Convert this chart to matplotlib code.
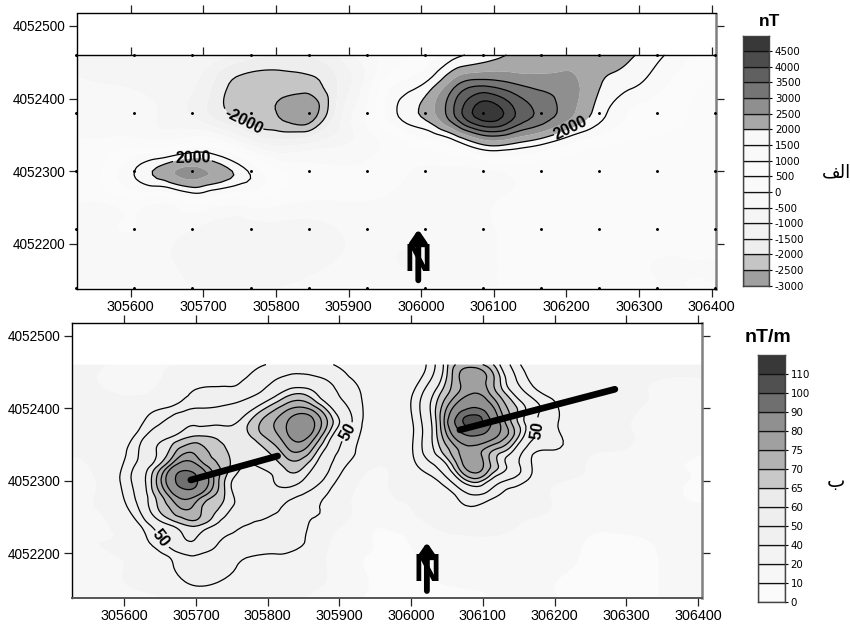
import numpy as np
import matplotlib
matplotlib.use("Agg")
import matplotlib.pyplot as plt
import matplotlib.tri as mtri
from matplotlib.colors import BoundaryNorm, ListedColormap

plt.rcParams['font.family'] = ['Liberation Sans', 'DejaVu Sans']

# ---------- data ----------
grid_x = [305525, 305565, 305605, 305645, 305685, 305725, 305765, 305805, 305845, 305885, 305925, 305965,
          306005, 306045, 306085, 306125, 306165, 306205, 306245, 306285, 306325, 306365, 306405]
grid_y = [4052460, 4052420, 4052380, 4052340, 4052300, 4052260, 4052220, 4052180, 4052140]

tmi_rows = [
    [-600, -800, -700, -600, -500, -800, -1300, -1500, -1450, -1000, -100, 300, 700, 1350, 1700, 2050, 2200, 2350, 2450, 2100, 1650, 1100, 700],
    [-400, -500, -600, -700, -900, -1800, -2250, -2250, -2200, -1500, -300, 1000, 1550, 2800, 3350, 3050, 2800, 2650, 2050, 1650, 1200, 700, 400],
    [-200, -200, -300, -600, -1100, -1850, -2350, -2580, -2900, -1300, 100, 1450, 2150, 3500, 4800, 4150, 3350, 2650, 1750, 1000, 700, 500, 300],
    [100, 100, 200, 100, 500, 200, -800, -1300, -1100, -700, -200, 300, 800, 1300, 2250, 2150, 1700, 1100, 700, 500, 400, 300, 200],
    [200, 600, 1500, 2250, 2650, 2250, 1400, 500, 200, 100, 100, 100, -100, -100, -100, 100, 200, 200, 200, 200, 200, 200, 200],
    [100, 100, 400, 200, 800, 400, 400, 200, 0, 0, 0, -100, -200, -200, -100, 100, 200, 200, 200, 200, 200, 200, 100],
    [-200, -100, 0, -300, -500, -700, -700, -700, -700, -500, -300, -300, -400, -300, -100, 100, 200, 200, 200, 100, 100, 100, 100],
    [-400, -300, -200, -400, -700, -800, -800, -800, -700, -500, -400, -500, -500, -300, -100, 100, 200, 200, 200, 100, 0, 0, 0],
    [-300, -300, -200, -300, -500, -600, -600, -500, -400, -300, -300, -400, -400, -300, -100, 100, 100, 100, 100, 100, 0, 0, 0],
]
grad_rows = [
    [25, 22, 16, 18, 20, 25, 32, 41, 48, 41, 30, 20, 30, 60, 72, 59, 33, 28, 27, 27, 26, 24, 24],
    [24, 23, 19, 23, 38, 43, 45, 56, 65, 54, 42, 26, 42, 67, 80, 68, 48, 33, 28, 26, 21, 18, 18],
    [24, 24, 27, 48, 58, 59, 62, 74, 84, 69, 45, 25, 42, 74, 105, 79, 56, 40, 27, 24, 17, 15, 14],
    [22, 25, 41, 60, 74, 69, 61, 66, 75, 56, 39, 24, 42, 66, 78, 66, 44, 38, 24, 20, 15, 13, 11],
    [18, 22, 47, 70, 95, 75, 55, 59, 61, 46, 22, 19, 33, 44, 67, 52, 38, 22, 18, 15, 13, 11, 9],
    [14, 21, 39, 64, 75, 66, 56, 53, 44, 37, 17, 15, 21, 34, 38, 28, 23, 19, 16, 14, 12, 11, 11],
    [12, 19, 25, 47, 60, 53, 47, 44, 43, 22, 12, 9, 11, 17, 19, 19, 17, 15, 10, 9, 10, 11, 12],
    [12, 14, 21, 30, 46, 46, 38, 33, 28, 19, 11, 8, 9, 12, 13, 13, 12, 11, 9, 8, 9, 11, 12],
    [12, 12, 15, 19, 30, 30, 24, 23, 21, 16, 11, 8, 8, 9, 9, 11, 11, 10, 8, 8, 9, 11, 12],
]

# extra readings between the grid nodes around the three gradient highs
extra_y_440_x = [305745, 305785, 305825, 305865, 306025, 306065, 306105, 306145]
extra_y_440_v = [36, 44, 52, 52, 48, 74, 75, 51]
extra_y_400_x = [305625, 305665, 305705, 305745, 305785, 305825, 305865, 305905, 306025, 306065, 306105, 306145, 306185]
extra_y_400_v = [32, 42, 50, 52, 61, 73, 72, 53, 59, 84, 86, 66, 48]
extra_y_360_x = [305625, 305665, 305705, 305745, 305785, 305825, 305865, 305905, 306025, 306065, 306105, 306145, 306185]
extra_y_360_v = [48, 60, 66, 62, 67, 78, 76, 51, 57, 83, 85, 68, 46]
extra_y_320_x = [305625, 305665, 305705, 305745, 305785, 305825, 305865, 305905, 306025, 306065, 306105, 306145]
extra_y_320_v = [55, 77, 80, 66, 60, 66, 60, 42, 46, 70, 73, 54]
extra_y_280_x = [305625, 305665, 305705, 305745, 305785, 305825, 305865, 306025, 306065, 306105, 306145]
extra_y_280_v = [56, 77, 79, 63, 55, 55, 45, 29, 42, 47, 33]
extra_y_240_x = [305625, 305665, 305705, 305745, 305785, 305825]
extra_y_240_v = [43, 61, 66, 55, 49, 45]
extra_y_200_x = [305665, 305705, 305745]
extra_y_200_v = [45, 51, 45]
grad_extra = [
    (4052440, extra_y_440_x, extra_y_440_v),
    (4052400, extra_y_400_x, extra_y_400_v),
    (4052360, extra_y_360_x, extra_y_360_v),
    (4052320, extra_y_320_x, extra_y_320_v),
    (4052280, extra_y_280_x, extra_y_280_v),
    (4052240, extra_y_240_x, extra_y_240_v),
    (4052200, extra_y_200_x, extra_y_200_v),
]

station_x = [305525, 305605, 305685, 305765, 305845, 305925, 306005, 306085, 306165, 306245, 306325, 306405]
station_y = [4052460, 4052380, 4052300, 4052220, 4052140]

tmi_levels = [-3000, -2500, -2000, -1500, -1000, -500, 0, 500, 1000, 1500, 2000, 2500, 3000, 3500, 4000, 4500, 5000]
tmi_colors = ['#a0a0a0', '#c5c5c5', '#eeeeee', '#f2f2f2', '#f5f5f5', '#f8f8f8', '#fafafa', '#fbfbfb',
              '#f9f9f9', '#f8f8f8', '#a8a8a8', '#8f8f8f', '#757575', '#606060', '#4c4c4c', '#383838']
tmi_lines = [-2500, -2000, 1500, 2000, 3000, 3500, 4000, 4500]
tmi_tick_labels = ['-3000', '-2500', '-2000', '-1500', '-1000', '-500', '0', '500', '1000', '1500', '2000',
                   '2500', '3000', '3500', '4000', '4500']

grad_levels = [0, 10, 20, 40, 50, 60, 65, 70, 75, 80, 90, 100, 110, 125]
grad_colors = ['#fbfbfb', '#f7f7f7', '#f3f3f3', '#f0f0f0', '#eeeeee', '#ebebeb', '#c8c8c8', '#b2b2b2',
               '#a0a0a0', '#909090', '#6f6f6f', '#505050', '#383838']
grad_lines = [40, 50, 60, 65, 70, 75, 80, 90, 100]
grad_tick_labels = ['0', '10', '20', '40', '50', '60', '65', '70', '75', '80', '90', '100', '110']

profile_west_x = [305693, 305814]
profile_west_y = [4052301, 4052334]
profile_east_x = [306068, 306284]
profile_east_y = [4052370, 4052426]

x_ticks = [305600, 305700, 305800, 305900, 306000, 306100, 306200, 306300, 306400]
y_ticks = [4052200, 4052300, 4052400, 4052500]

tmi_label_pos = {-2000: [(305757, 4052374)], 2000: [(305686, 4052312), (306204, 4052364)]}
grad_label_pos = {50: [(305653, 4052222), (305909, 4052368), (306182, 4052368)]}

# ---------- helpers ----------
W, H = 850, 626
fig = plt.figure(figsize=(W / 100, H / 100), dpi=100)


def px_axes(l, t, r, b):
    return fig.add_axes([l / W, 1 - b / H, (r - l) / W, (b - t) / H])


def refined(rows, extra=()):
    gx, gy = np.meshgrid(grid_x, grid_y)
    xs = list(gx.ravel())
    ys = list(gy.ravel())
    zs = list(np.asarray(rows, float).ravel())
    for y0, ex, ev in extra:
        xs += list(ex)
        ys += [y0] * len(ex)
        zs += list(ev)
    x0, yb = grid_x[0], grid_y[-1]
    tr = mtri.Triangulation(np.array(xs, float) - x0, np.array(ys, float) - yb)
    refiner = mtri.UniformTriRefiner(tr)
    t2, z2 = refiner.refine_field(np.array(zs, float), subdiv=3)
    t2 = mtri.Triangulation(t2.x + x0, t2.y + yb, t2.triangles)
    return t2, z2


def draw_map(ax, rows, levels, colors, lines, label_pos, xlim, ylim, extra=()):
    tr, z = refined(rows, extra)
    z = np.clip(z, levels[0] + 1e-3, levels[-1] - 1e-3)
    cmap = ListedColormap(colors)
    norm = BoundaryNorm(levels, cmap.N)
    ax.tricontourf(tr, z, levels=levels, cmap=cmap, norm=norm, antialiased=True)
    plain = [v for v in lines if v not in label_pos]
    ax.tricontour(tr, z, levels=plain, colors='black', linewidths=0.9, linestyles='solid')
    ax.set_xlim(*xlim)
    ax.set_ylim(*ylim)
    for lev, pos in label_pos.items():
        cs = ax.tricontour(tr, z, levels=[lev], colors='black', linewidths=0.9, linestyles='solid')
        ax.clabel(cs, manual=pos, fmt='%d', fontsize=11.5, inline=True, inline_spacing=2)
        for t in cs.labelTexts:
            t.set_fontweight('bold')
            t.set_color('black')
    ax.set_xticks(x_ticks)
    ax.set_yticks(y_ticks)
    ax.ticklabel_format(useOffset=False, style='plain')
    ax.tick_params(axis='both', which='major', length=6, width=0.9, top=True, right=True, color='#222222')
    ax.tick_params(axis='x', labelsize=10.4, pad=2)
    ax.tick_params(axis='y', labelsize=9.8, pad=2)
    for s in ('left', 'top', 'bottom'):
        ax.spines[s].set_linewidth(1.0)
    ax.spines['right'].set_linewidth(1.8)
    ax.spines['right'].set_color('#808080')


def north(ax, x_arrow, y_top, y_bot, y_n):
    ax.annotate('', xy=(x_arrow, y_top), xytext=(x_arrow, y_bot),
                arrowprops=dict(arrowstyle='-|>,head_width=0.48,head_length=0.7', lw=4.2, color='black',
                                shrinkA=0, shrinkB=0), zorder=6)
    ax.text(x_arrow, y_n, 'N', fontsize=27, fontweight='bold', ha='center', va='center', color='black', zorder=6)


def legend(ax, levels_n, colors, tick_labels, title, tx, ty, tsize):
    for i, c in enumerate(colors):
        ax.bar(0.5, 1, bottom=i, width=1, color=c, edgecolor='#111111', linewidth=0.9)
    ax.set_xlim(0, 1)
    ax.set_ylim(0, levels_n)
    ax.set_xticks([])
    ax.set_yticks(range(len(tick_labels)))
    ax.set_yticklabels(tick_labels, family='DejaVu Sans', fontsize=7.4)
    ax.yaxis.tick_right()
    ax.tick_params(axis='y', length=2, width=0.8, pad=2)
    for s in ax.spines.values():
        s.set_color('#444444')
        s.set_linewidth(1.0)
    fig.text(tx / W, 1 - ty / H, title, fontsize=tsize, fontweight='bold', ha='center', va='center')


# ---------- top panel ----------
ax1 = px_axes(76.5, 13.5, 716, 289)
draw_map(ax1, tmi_rows, tmi_levels, tmi_colors, tmi_lines, tmi_label_pos,
         (305525.3, 306406), (4052138, 4052517))
ax1.hlines(grid_y[0], 305525.3, 306406, color='black', lw=1.0, zorder=4)
ax1.vlines(x_ticks, grid_y[0], grid_y[0] + 11, color='#222222', lw=0.9, zorder=4)
sx, sy = np.meshgrid(station_x, station_y)
ax1.plot(sx.ravel(), sy.ravel(), ls='none', marker='o', ms=1.1, color='black', zorder=5, clip_on=False)
north(ax1, 306000 - 4, 4052220, 4052150, 4052177)

# ---------- bottom panel ----------
ax2 = px_axes(71.7, 322.5, 701.7, 597.5)
draw_map(ax2, grad_rows, grad_levels, grad_colors, grad_lines, grad_label_pos,
         (305527, 306405), (4052139, 4052518), extra=grad_extra)
ax2.spines['bottom'].set_color('#555555')
ax2.spines['bottom'].set_linewidth(1.4)
ax2.plot(profile_west_x, profile_west_y, color='black', lw=4.8, solid_capstyle='round', zorder=5)
ax2.plot(profile_east_x, profile_east_y, color='black', lw=4.8, solid_capstyle='round', zorder=5)
north(ax2, 306022, 4052215, 4052148, 4052176)

# ---------- legends ----------
cax1 = px_axes(742.7, 35.5, 769.3, 285.7)
legend(cax1, 16, tmi_colors, tmi_tick_labels, 'nT', 770, 22, 12.5)
cax2 = px_axes(758.3, 355, 785, 602.3)
legend(cax2, 13, grad_colors, grad_tick_labels, 'nT/m', 768, 338, 14)

# ---------- Arabic panel marks (visual order presentation forms) ----------
fig.text(836 / W, 1 - 172 / H, '\ufed2\ufedf\ufe8d', fontsize=13, family='DejaVu Sans', ha='center', va='center')
fig.text(836 / W, 1 - 482 / H, '\u0628', fontsize=14, family='DejaVu Sans', ha='center', va='center')

fig.savefig('out.png', dpi=100)
